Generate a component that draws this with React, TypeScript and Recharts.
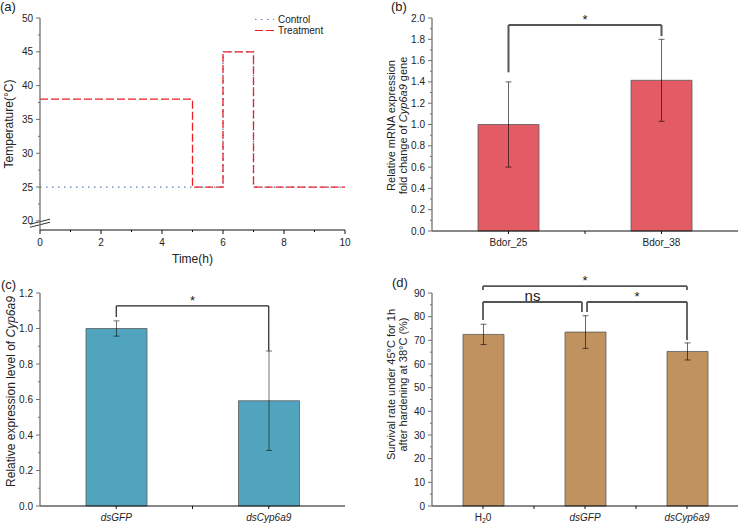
import React from "react";
import {
  LineChart,
  Line,
  BarChart,
  Bar,
  ErrorBar,
  XAxis,
  YAxis,
  ReferenceLine,
  Legend,
} from "recharts";

const FONT = '"Liberation Sans", Arial, sans-serif';
const INK = "#222";
const AXIS_GRAY = "#707070";

// (a) temperature programme
const timeControl = [0, 6, 7, 10];
const tempControl = [25, 45, 25, 25];
const timeTreatment = [0, 5, 6, 7, 10];
const tempTreatment = [38, 25, 45, 25, 25];
const timeTicks = [0, 2, 4, 6, 8, 10];
const tempTicks = [20, 25, 30, 35, 40, 45, 50];

// (b) Cyp6a9 fold change
const groupsB = ["Bdor_25", "Bdor_38"];
const meanB = [1.0, 1.415];
const errB = [0.4, 0.385];
const ticksB = [0, 0.2, 0.4, 0.6, 0.8, 1.0, 1.2, 1.4, 1.6, 1.8, 2.0];

// (c) RNAi knockdown
const groupsC = ["dsGFP", "dsCyp6a9"];
const meanC = [1.0, 0.593];
const errC = [0.043, 0.28];
const ticksC = [0, 0.2, 0.4, 0.6, 0.8, 1.0, 1.2];

// (d) survival
const groupsD = ["H20", "dsGFP", "dsCyp6a9"];
const meanD = [72.5, 73.5, 65.3];
const errD = [4.3, 6.9, 3.6];
const ticksD = [0, 10, 20, 30, 40, 50, 60, 70, 80, 90];

const withMinor = (t: number[]) =>
  t.flatMap((v, i) => (i === 0 ? [v] : [(t[i - 1] + v) / 2, v]));
const isIn = (arr: number[], v: number) => arr.some((m) => Math.abs(m - v) < 1e-6);
const centers = (g: string[]) => g.map((_, i) => i + 0.5);
const rows = (g: string[], m: number[], e: number[]) =>
  g.map((name, i) => ({ name, mean: m[i], err: e[i], pos: i + 0.5 }));

const yTick = (majors: number[], fmt: (v: number) => string) => (p: any) => {
  const v = p.payload.value;
  const major = isIn(majors, v);
  const len = major ? 4 : 2;
  return (
    <g>
      <line x1={p.x - len} x2={p.x} y1={p.y} y2={p.y} stroke={AXIS_GRAY} />
      {major && (
        <text x={p.x - len - 3} y={p.y} dy="0.35em" textAnchor="end" fontSize={10} fill={INK}>
          {fmt(v)}
        </text>
      )}
    </g>
  );
};

const xTickNum = (majors: number[]) => (p: any) => {
  const v = p.payload.value;
  const major = isIn(majors, v);
  return (
    <g>
      <line x1={p.x} x2={p.x} y1={p.y} y2={p.y + (major ? 4 : 2)} stroke="#111" />
      {major && (
        <text x={p.x} y={p.y + 16} textAnchor="middle" fontSize={10} fill={INK}>
          {v}
        </text>
      )}
    </g>
  );
};

const catName = (name: string) => {
  if (name === "H20")
    return (
      <>
        <tspan>H</tspan>
        <tspan dy={1.5} fontSize={7}>2</tspan>
        <tspan dy={-1.5}>0</tspan>
      </>
    );
  return name;
};

const xTickCat = (groups: string[]) => (p: any) => {
  const v = p.payload.value;
  const i = v - 0.5;
  const center = Math.abs(i - Math.round(i)) < 1e-6;
  const name = center ? groups[Math.round(i)] : "";
  return (
    <g>
      <line x1={p.x} x2={p.x} y1={p.y} y2={p.y + 3} stroke="#111" />
      {center && (
        <text
          x={p.x}
          y={p.y + 15}
          textAnchor="middle"
          fontSize={10}
          fill={INK}
          fontStyle={name.startsWith("ds") ? "italic" : "normal"}
        >
          {catName(name)}
        </text>
      )}
    </g>
  );
};

const yTitle = (lines: React.ReactNode[], xs: number[], dy: number, size: number) => (props: any) => {
  const vb = props.viewBox || { x: 0, y: 0, width: 0, height: 0 };
  const cy = vb.y + vb.height / 2 + dy;
  return (
    <g>
      {lines.map((ln, k) => (
        <text
          key={k}
          transform={`translate(${xs[k]},${cy}) rotate(-90)`}
          textAnchor="middle"
          dy="0.35em"
          fontSize={size}
          fill={INK}
        >
          {ln}
        </text>
      ))}
    </g>
  );
};

const bracket = (
  id: string,
  x1: number,
  x2: number,
  y: number,
  leg1: number,
  leg2: number,
  text: string,
  size: number,
  stroke: string,
  sw: number
) => [
  <ReferenceLine
    key={id + "h"}
    ifOverflow="visible"
    segment={[{ x: x1, y }, { x: x2, y }]}
    stroke={stroke}
    strokeWidth={sw}
    label={text ? { value: text, position: "top", offset: 1, fontSize: size, fill: INK } : undefined}
  />,
  <ReferenceLine
    key={id + "l"}
    ifOverflow="visible"
    segment={[{ x: x1, y }, { x: x1, y: leg1 }]}
    stroke={stroke}
    strokeWidth={sw}
  />,
  <ReferenceLine
    key={id + "r"}
    ifOverflow="visible"
    segment={[{ x: x2, y }, { x: x2, y: leg2 }]}
    stroke={stroke}
    strokeWidth={sw}
  />,
];

const legendA = (props: any) => (
  <div style={{ fontSize: 10, color: INK, fontFamily: FONT }}>
    {(props.payload || []).map((e: any) => (
      <div key={e.value} style={{ display: "flex", alignItems: "center", height: 11 }}>
        <svg width={24} height={11}>
          <line
            x1={1}
            x2={20}
            y1={5.5}
            y2={5.5}
            stroke={e.color}
            strokeWidth={1.2}
            strokeDasharray={e.payload?.strokeDasharray}
          />
        </svg>
        <span>{e.value}</span>
      </div>
    ))}
  </div>
);

const panelLetter = (t: string, left: number, top: number) => (
  <div style={{ position: "absolute", left, top, fontSize: 13, lineHeight: "14px", color: INK }}>{t}</div>
);

function PanelA() {
  const control = timeControl.map((t, i) => ({ t, temp: tempControl[i] }));
  const treatment = timeTreatment.map((t, i) => ({ t, temp: tempTreatment[i] }));
  return (
    <LineChart width={369} height={270} margin={{ top: 18, right: 24, bottom: 0, left: 0 }}>
      <XAxis
        dataKey="t"
        type="number"
        domain={[0, 10]}
        ticks={withMinor(timeTicks)}
        interval={0}
        tickSize={0}
        tickMargin={0}
        tickLine={false}
        axisLine={{ stroke: "#111" }}
        tick={xTickNum(timeTicks)}
        height={40}
        label={{ value: "Time(h)", position: "insideBottom", offset: 7, fontSize: 12, fill: INK }}
      />
      <YAxis
        type="number"
        domain={[18.65, 50]}
        allowDataOverflow
        ticks={withMinor(tempTicks)}
        interval={0}
        tickSize={0}
        tickMargin={0}
        tickLine={false}
        axisLine={{ stroke: AXIS_GRAY, strokeWidth: 1.3 }}
        tick={yTick(tempTicks, (v) => String(v))}
        width={40}
        label={yTitle(["Temperature(°C)"], [9], 0, 12)}
      />
      <ReferenceLine ifOverflow="visible" segment={[{ x: -0.33, y: 19.5 }, { x: 0.33, y: 20.25 }]} stroke="#333" />
      <ReferenceLine ifOverflow="visible" segment={[{ x: -0.33, y: 19.05 }, { x: 0.33, y: 19.8 }]} stroke="#333" />
      <Legend
        layout="vertical"
        align="center"
        verticalAlign="middle"
        wrapperStyle={{ top: 14, left: 254, width: "auto" }}
        content={legendA}
      />
      <Line
        data={control}
        dataKey="temp"
        name="Control"
        type="stepAfter"
        stroke="#5B7DB8"
        strokeWidth={1.3}
        strokeDasharray="1.5 4.5"
        dot={false}
        activeDot={false}
        isAnimationActive={false}
      />
      <Line
        data={treatment}
        dataKey="temp"
        name="Treatment"
        type="stepAfter"
        stroke="#EE1C25"
        strokeWidth={1.3}
        strokeDasharray="8 3"
        dot={false}
        activeDot={false}
        isAnimationActive={false}
      />
    </LineChart>
  );
}

function BarPanel(props: {
  groups: string[];
  means: number[];
  errs: number[];
  ticks: number[];
  fmt: (v: number) => string;
  fill: string;
  errOpacity: number;
  width: number;
  height: number;
  top: number;
  right: number;
  yWidth: number;
  xHeight: number;
  barSize: number;
  title: any;
  children?: React.ReactNode;
}) {
  const { groups, ticks } = props;
  const n = groups.length;
  return (
    <BarChart
      width={props.width}
      height={props.height}
      data={rows(groups, props.means, props.errs)}
      margin={{ top: props.top, right: props.right, bottom: 0, left: 0 }}
    >
      <XAxis
        dataKey="pos"
        type="number"
        domain={[0, n]}
        allowDataOverflow
        ticks={withMinor(centers(groups))}
        interval={0}
        tickSize={0}
        tickMargin={0}
        tickLine={false}
        axisLine={{ stroke: "#111" }}
        tick={xTickCat(groups)}
        height={props.xHeight}
      />
      <YAxis
        type="number"
        domain={[ticks[0], ticks[ticks.length - 1]]}
        ticks={withMinor(ticks)}
        interval={0}
        tickSize={0}
        tickMargin={0}
        tickLine={false}
        axisLine={{ stroke: AXIS_GRAY, strokeWidth: 1.3 }}
        tick={yTick(ticks, props.fmt)}
        width={props.yWidth}
        label={props.title}
      />
      <Bar
        dataKey="mean"
        fill={props.fill}
        stroke="#5a5a5a"
        strokeWidth={0.8}
        barSize={props.barSize}
        isAnimationActive={false}
      >
        <ErrorBar
          dataKey="err"
          direction="y"
          width={3}
          stroke="#000"
          strokeOpacity={props.errOpacity}
          strokeWidth={1}
          isAnimationActive={false}
        />
      </Bar>
      {props.children}
    </BarChart>
  );
}

export default function App() {
  const it = (s: string) => <tspan fontStyle="italic">{s}</tspan>;
  return (
    <div
      style={{
        position: "absolute",
        left: 0,
        top: 0,
        width: 738,
        height: 523,
        background: "#fff",
        fontFamily: FONT,
        overflow: "hidden",
      }}
    >
      <div style={{ position: "absolute", left: 0, top: 0 }}>
        <PanelA />
      </div>
      <div style={{ position: "absolute", left: 369, top: 0 }}>
        {BarPanel({
          groups: groupsB,
          means: meanB,
          errs: errB,
          ticks: ticksB,
          fmt: (v) => v.toFixed(1),
          fill: "#E35B64",
          errOpacity: 0.6,
          width: 369,
          height: 270,
          top: 18,
          right: 0,
          yWidth: 63,
          xHeight: 39,
          barSize: 61,
          title: yTitle(
            ["Relative mRNA expression", <>fold change of {it("Cyp6a9")} gene</>],
            [22, 34],
            1,
            11
          ),
          children: bracket("b", 0.5, 1.5, 1.934, 1.49, 1.83, "*", 13, "#555", 2),
        })}
      </div>
      <div style={{ position: "absolute", left: 0, top: 270 }}>
        {BarPanel({
          groups: groupsC,
          means: meanC,
          errs: errC,
          ticks: ticksC,
          fmt: (v) => v.toFixed(1),
          fill: "#50A4BE",
          errOpacity: 0.55,
          width: 369,
          height: 253,
          top: 23,
          right: 24,
          yWidth: 40,
          xHeight: 17,
          barSize: 61,
          title: yTitle([<>Relative expression level of {it("Cyp6a9")}</>], [11], -8, 12),
          children: bracket("c", 0.5, 1.5, 1.127, 1.065, 0.873, "*", 13, "#222", 1.2),
        })}
      </div>
      <div style={{ position: "absolute", left: 369, top: 270 }}>
        {BarPanel({
          groups: groupsD,
          means: meanD,
          errs: errD,
          ticks: ticksD,
          fmt: (v) => String(v),
          fill: "#C0925F",
          errOpacity: 0.6,
          width: 369,
          height: 253,
          top: 23,
          right: 0,
          yWidth: 63,
          xHeight: 17,
          barSize: 41,
          title: yTitle(
            ["Survival rate under 45°C for 1h", "after hardening at 38°C (%)"],
            [22, 34],
            -15,
            11
          ),
          children: [
            ...bracket("d1", 0.5, 2.5, 92.9, 91.3, 91.3, "*", 13, "#555", 1.8),
            ...bracket("d2", 0.5, 1.47, 86.2, 78.6, 82, "ns", 15, "#555", 1.8),
            ...bracket("d3", 1.52, 2.5, 86.2, 82, 70.1, "*", 13, "#555", 1.8),
          ],
        })}
      </div>
      {panelLetter("(a)", 0, 0)}
      {panelLetter("(b)", 391, 0)}
      {panelLetter("(c)", 1, 278)}
      {panelLetter("(d)", 392, 276)}
    </div>
  );
}
